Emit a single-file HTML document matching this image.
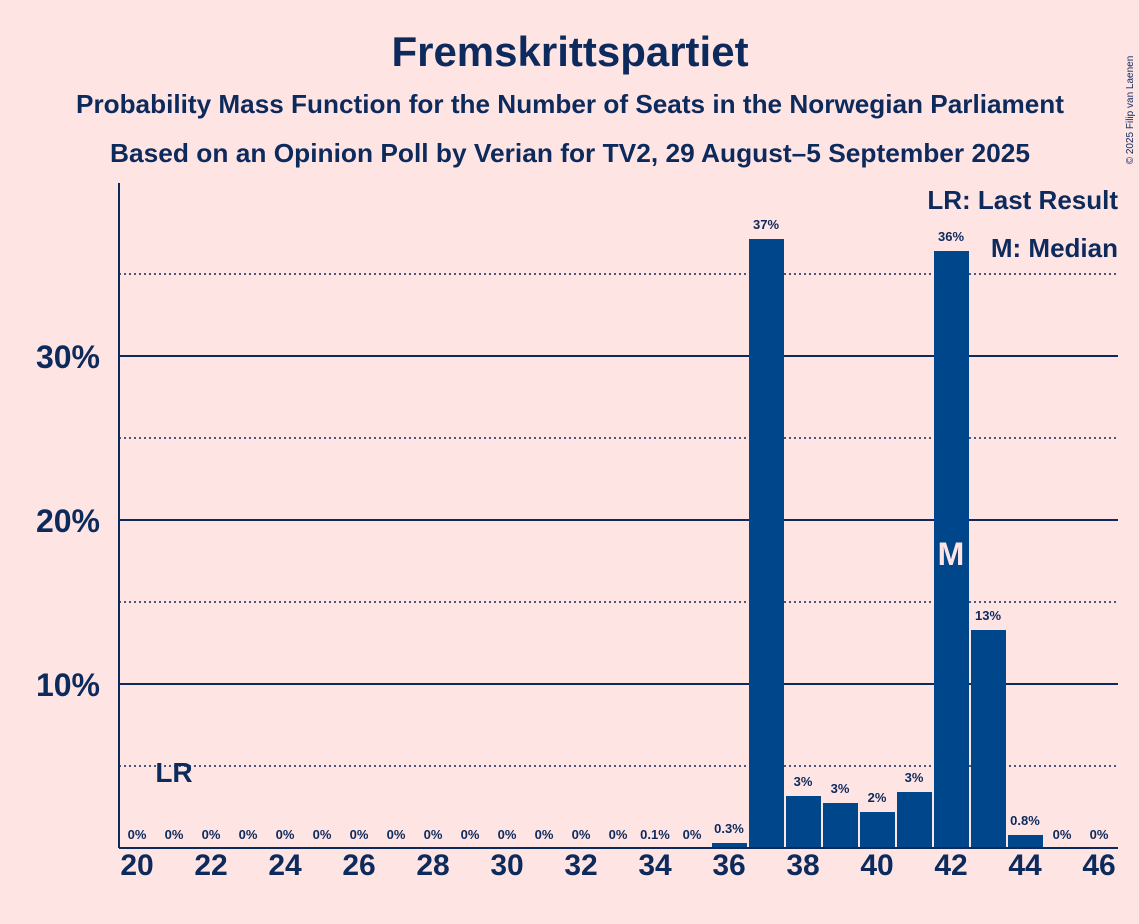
<!DOCTYPE html>
<html><head><meta charset="utf-8"><style>
body{margin:0;background:#FFE4E4;}
svg{display:block;font-family:"Liberation Sans",sans-serif;font-weight:bold;}
</style></head><body>
<svg width="1139" height="924" viewBox="0 0 1139 924">
<rect width="1139" height="924" fill="#FFE4E4"/>
<g fill="#0C2A5C" text-anchor="middle">
<text x="570" y="66" font-size="42">Fremskrittspartiet</text>
<text x="570" y="113" font-size="26" textLength="988" lengthAdjust="spacingAndGlyphs">Probability Mass Function for the Number of Seats in the Norwegian Parliament</text>
<text x="570" y="162" font-size="26" textLength="920" lengthAdjust="spacingAndGlyphs">Based on an Opinion Poll by Verian for TV2, 29 August–5 September 2025</text>
</g>
<text x="1133" y="110" font-size="10" font-weight="normal" fill="#0C2A5C" transform="rotate(-90 1133 110)" text-anchor="middle">© 2025 Filip van Laenen</text>
<g stroke="#0C2A5C" stroke-width="2">
<line x1="119" y1="684" x2="1118" y2="684"/>
<line x1="119" y1="520" x2="1118" y2="520"/>
<line x1="119" y1="356" x2="1118" y2="356"/>
</g>
<g stroke="#0C2A5C" stroke-width="1.5" stroke-dasharray="2,3">
<line x1="119" y1="766" x2="1118" y2="766"/>
<line x1="119" y1="602" x2="1118" y2="602"/>
<line x1="119" y1="438" x2="1118" y2="438"/>
<line x1="119" y1="274" x2="1118" y2="274"/>
</g>
<g fill="#0C2A5C" font-size="32" text-anchor="end">
<text x="100" y="696">10%</text>
<text x="100" y="532">20%</text>
<text x="100" y="368">30%</text>
</g>
<g fill="#00468B">
<rect x="712" y="843" width="35" height="5"/>
<rect x="749" y="239" width="35" height="609"/>
<rect x="786" y="796" width="35" height="52"/>
<rect x="823" y="803" width="35" height="45"/>
<rect x="860" y="812" width="35" height="36"/>
<rect x="897" y="792" width="35" height="56"/>
<rect x="934" y="251" width="35" height="597"/>
<rect x="971" y="630" width="35" height="218"/>
<rect x="1008" y="835" width="35" height="13"/>
</g>
<text x="951" y="565" font-size="32" fill="#FFE4E4" text-anchor="middle">M</text>
<g fill="#0C2A5C" font-size="13" text-anchor="middle">
<text x="137" y="839">0%</text><text x="174" y="839">0%</text><text x="211" y="839">0%</text><text x="248" y="839">0%</text><text x="285" y="839">0%</text><text x="322" y="839">0%</text><text x="359" y="839">0%</text><text x="396" y="839">0%</text><text x="433" y="839">0%</text><text x="470" y="839">0%</text><text x="507" y="839">0%</text><text x="544" y="839">0%</text><text x="581" y="839">0%</text><text x="618" y="839">0%</text><text x="655" y="839">0.1%</text><text x="692" y="839">0%</text><text x="729" y="833">0.3%</text>
<text x="766" y="229">37%</text><text x="803" y="786">3%</text><text x="840" y="793">3%</text><text x="877" y="802">2%</text><text x="914" y="782">3%</text><text x="951" y="241">36%</text><text x="988" y="620">13%</text><text x="1025" y="825">0.8%</text><text x="1062" y="839">0%</text><text x="1099" y="839">0%</text>
</g>
<text x="174" y="782" font-size="28" fill="#0C2A5C" text-anchor="middle">LR</text>
<line x1="119" y1="183" x2="119" y2="848" stroke="#0C2A5C" stroke-width="2"/>
<line x1="119" y1="848" x2="1118" y2="848" stroke="#0C2A5C" stroke-width="2"/>
<g fill="#0C2A5C" font-size="30" text-anchor="middle">
<text x="137" y="875">20</text><text x="211" y="875">22</text><text x="285" y="875">24</text><text x="359" y="875">26</text><text x="433" y="875">28</text><text x="507" y="875">30</text><text x="581" y="875">32</text><text x="655" y="875">34</text><text x="729" y="875">36</text><text x="803" y="875">38</text><text x="877" y="875">40</text><text x="951" y="875">42</text><text x="1025" y="875">44</text><text x="1099" y="875">46</text>
</g>
<g fill="#0C2A5C" font-size="26" text-anchor="end">
<text x="1118" y="209">LR: Last Result</text>
<text x="1118" y="257">M: Median</text>
</g>
</svg>
</body></html>
